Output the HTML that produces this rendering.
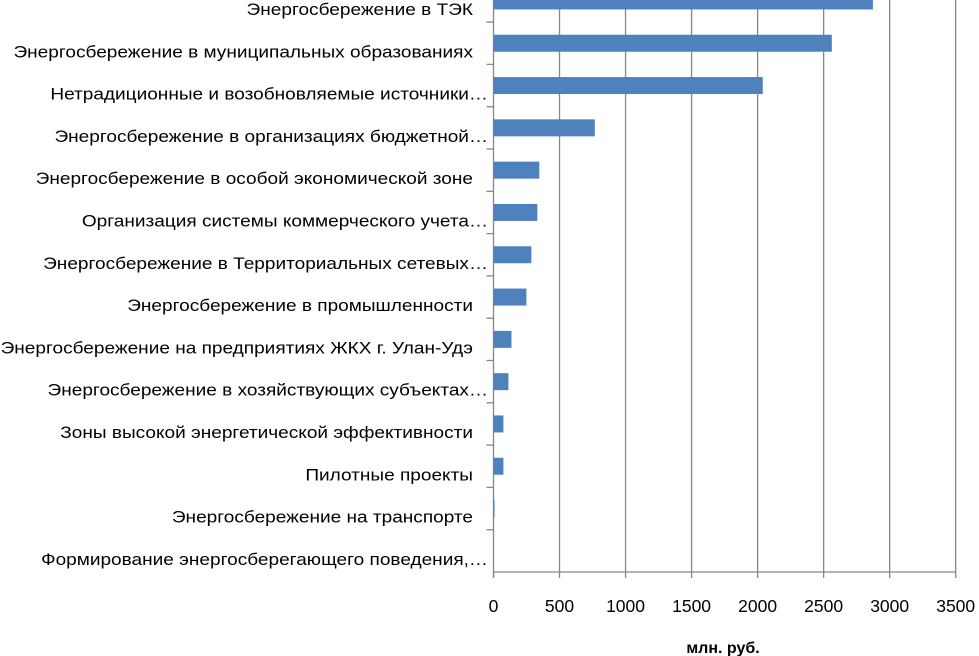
<!DOCTYPE html>
<html><head><meta charset="utf-8"><style>
html,body{margin:0;padding:0;background:#fff;width:979px;height:656px;overflow:hidden}
svg{display:block}
text{font-family:"Liberation Sans","DejaVu Sans",sans-serif;fill:#000}
</style></head><body>
<svg id="chart" width="979" height="656"></svg>
<script>
const categories=["Энергосбережение в ТЭК","Энергосбережение в муниципальных образованиях","Нетрадиционные и возобновляемые источники…","Энергосбережение в организациях бюджетной…","Энергосбережение в особой экономической зоне","Организация системы коммерческого учета…","Энергосбережение в Территориальных сетевых…","Энергосбережение в промышленности","Энергосбережение на предприятиях ЖКХ г. Улан-Удэ","Энергосбережение в хозяйствующих субъектах…","Зоны высокой энергетической эффективности","Пилотные проекты","Энергосбережение на транспорте","Формирование энергосберегающего  поведения,…"];
const values=[2873,2562,2039,767,347,332,287,249,136,113,75,75,8,1];
const tickLabels=[0,500,1000,1500,2000,2500,3000,3500];
const axisTitle="млн. руб.";

const svg=document.getElementById('chart');
const NS='http://www.w3.org/2000/svg';
const x0=493.5,x1=955.7,maxV=3500,yBottom=572,rowH=42.3,barH=17;
const xs=v=>x0+(v/maxV)*(x1-x0);
const rowTop=i=>yBottom-(categories.length-i)*rowH;
function mk(t,a){const e=document.createElementNS(NS,t);for(const k in a)e.setAttribute(k,a[k]);svg.appendChild(e);return e;}

tickLabels.forEach((t,i)=>{
  const x=xs(t);
  if(i>0){const g=mk('line',{x1:x,x2:x,y1:rowTop(0),y2:yBottom,stroke:'#868686','stroke-width':1.3});
  
  }
  const tk=mk('line',{x1:x,x2:x,y1:yBottom,y2:yBottom+6,stroke:'#868686','stroke-width':1.3});
  
  
  const lb=mk('text',{x:x,y:612,'text-anchor':'middle','font-size':17.5});
  lb.textContent=t;
  
  
});
const ax=mk('line',{x1:x0,x2:x1,y1:yBottom,y2:yBottom,stroke:'#868686','stroke-width':1.3});


const ay=mk('line',{x1:x0,x2:x0,y1:rowTop(0),y2:yBottom+6,stroke:'#868686','stroke-width':1.3});



categories.forEach((c,i)=>{
  const top=rowTop(i);
  const tk=mk('line',{x1:x0-7,x2:x0,y1:top,y2:top,stroke:'#868686','stroke-width':1.3});
  
  
  const cy=top+rowH/2;
  const b=mk('rect',{x:x0,y:cy-barH/2,width:Math.max(0,xs(values[i])-x0),height:barH,fill:'#4f81bd'});
  
  
  const ell=c.endsWith('…');
  const lb=mk('text',{x:ell?488:473,y:cy+14,'text-anchor':'end','font-size':17});
  lb.textContent=c;
  
  
  const w=lb.getComputedTextLength();
  if(w>0){lb.setAttribute('textLength',w*1.12);lb.setAttribute('lengthAdjust','spacingAndGlyphs');}
});
const t=mk('text',{x:723,y:653,'text-anchor':'middle','font-size':16,'font-weight':'bold'});
t.textContent=axisTitle;


</script>
</body></html>
